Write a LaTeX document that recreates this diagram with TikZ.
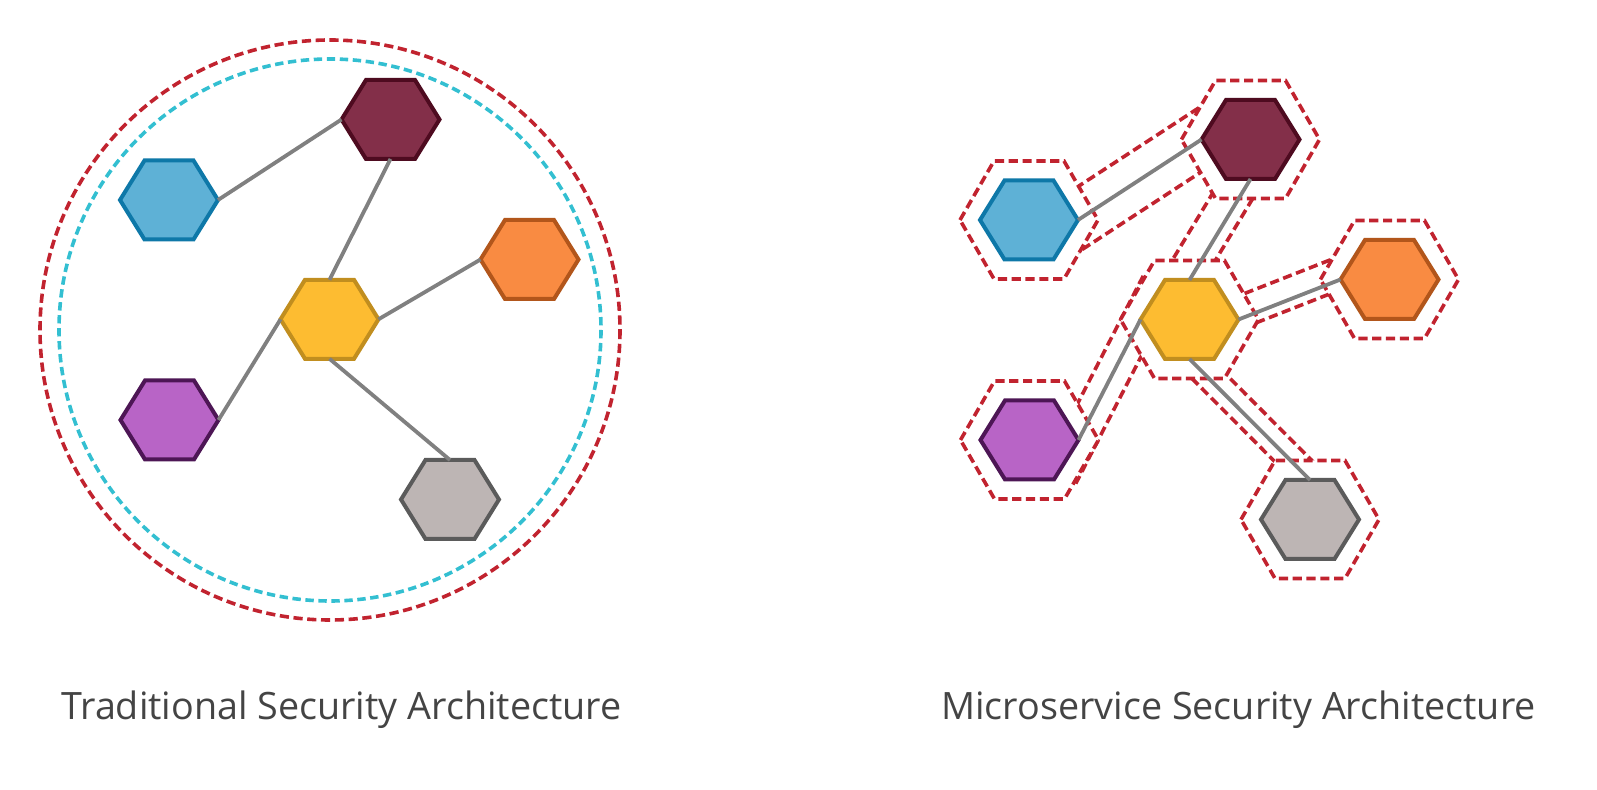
\documentclass[tikz,border=0pt]{standalone}
\usepackage{fontspec}
\setmainfont{Open Sans}
\usetikzlibrary{calc,backgrounds}

\definecolor{svcblue}{HTML}{5EB1D6}
\definecolor{svcbluedark}{HTML}{0E78A8}
\definecolor{svcwine}{HTML}{832F49}
\definecolor{svcwinedark}{HTML}{4E0B20}
\definecolor{svcorange}{HTML}{F98B42}
\definecolor{svcorangedark}{HTML}{B2561B}
\definecolor{svcyellow}{HTML}{FDBC31}
\definecolor{svcyellowdark}{HTML}{C18E1F}
\definecolor{svcpurple}{HTML}{B864C6}
\definecolor{svcpurpledark}{HTML}{4D1655}
\definecolor{svcgrey}{HTML}{BDB5B4}
\definecolor{svcgreydark}{HTML}{5B5B5B}
\definecolor{linkgrey}{HTML}{808080}
\definecolor{guardred}{HTML}{C1232F}
\definecolor{guardcyan}{HTML}{33BFD1}
\definecolor{labelgrey}{HTML}{444444}

\tikzset{
  svclink/.style={draw=linkgrey, line width=1.9pt},
  guardline/.style={draw=guardred, line width=1.8pt, dash pattern=on 4.6pt off 2.3pt},
  wallline/.style={draw=guardcyan, line width=1.8pt, dash pattern=on 4.2pt off 2.3pt},
  archlabel/.style={anchor=base west, inner sep=0pt, text=labelgrey,
    font=\fontsize{18.85pt}{22pt}\selectfont},
  pics/svc/.style 2 args={code={
    \draw[line width=2pt, fill=#1, draw=#2]
      (-49,0) -- (-24.5,-39.5) -- (24.5,-39.5) -- (49,0) -- (24.5,39.5) -- (-24.5,39.5) -- cycle;
    \coordinate (-c) at (0,0);
    \coordinate (-w) at (-49,0);
    \coordinate (-e) at (49,0);
    \coordinate (-n) at (0,-39.5);
    \coordinate (-s) at (0,39.5);
  }},
}

% guard hexagon round one service
\newcommand{\hexring}[1]{(#1) ++(-69,0) -- ++(34,-59) -- ++(70,0) -- ++(34,59) -- ++(-34,59) -- ++(-70,0) -- cycle}

\begin{document}
\begin{tikzpicture}[x=0.5pt, y=-0.5pt]
    \useasboundingbox (0,0) rectangle (1597,790);

    % the traditional perimeter
    \draw[guardline] (330,330) circle (290);
    \draw[wallline] (330,330) circle (271);

    % the services, left and right
    \foreach \n/\x/\y/\dy/\f/\d in {B/169/200/20/svcblue/svcbluedark, M/390.5/119.5/20/svcwine/svcwinedark,
        O/529.5/259.5/20/svcorange/svcorangedark, Y/329.5/319.3/0.2/svcyellow/svcyellowdark,
        P/169.5/420/20/svcpurple/svcpurpledark, G/450/499.5/20/svcgrey/svcgreydark}{
        \pic (t\n) at (\x,\y) {svc={\f}{\d}};
        \pic (m\n) at (\x+860,\y+\dy) {svc={\f}{\d}};
    }

    % the calls between services
    \foreach \a/\b in {B-e/M-w, M-s/Y-n, Y-e/O-w, Y-w/P-e, Y-s/G-n}{
        \draw[svclink] (t\a) -- (t\b);
        \draw[svclink] (m\a) -- (m\b);
    }

    % the guarded channels and guards, behind the services
    \begin{scope}[on background layer]
        \foreach \a/\b/\l/\r in {B-e/M-w/14pt/-13.5pt, M-s/Y-n/6pt/-12.5pt, Y-e/O-w/11pt/-4.75pt,
            Y-w/P-e/8.75pt/-8.75pt, Y-s/G-n/7.5pt/-6pt}{
            \draw[guardline, shorten <=-20pt, shorten >=-20pt]
            ($(m\a)!\l!90:(m\b)$) -- ($(m\b)!\l!-90:(m\a)$);
            \draw[guardline, shorten <=-20pt, shorten >=-20pt]
            ($(m\a)!\r!90:(m\b)$) -- ($(m\b)!\r!-90:(m\a)$);
        }
        \foreach \n in {B,M,Y,O,P,G}
            \draw[guardline, fill=white] \hexring{m\n-c};
    \end{scope}

    \node[archlabel] (tradlabel) at (61,720) {Traditional Security Architecture};
    \node[archlabel] (microlabel) at (941,720) {Microservice Security Architecture};
\end{tikzpicture}
\end{document}
